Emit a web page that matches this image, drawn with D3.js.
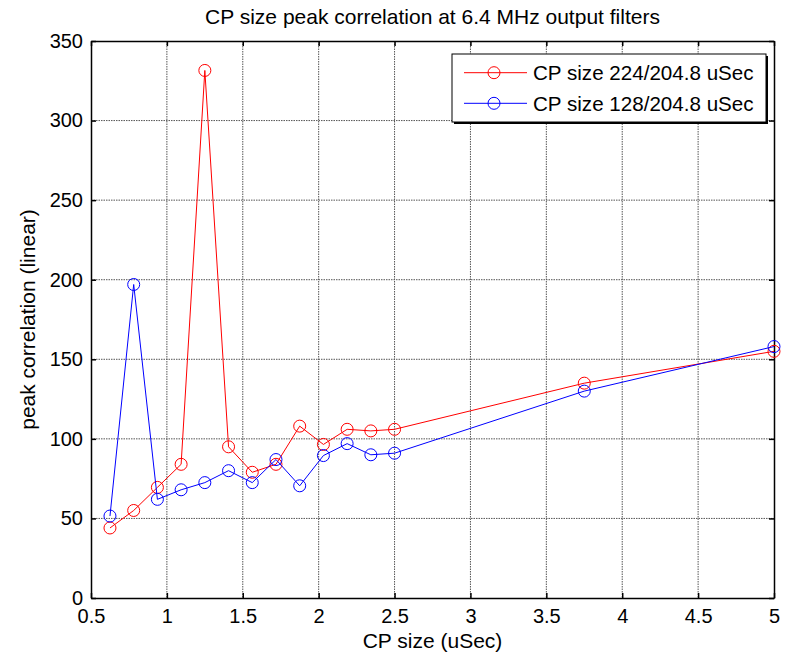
<!DOCTYPE html>
<html><head><meta charset="utf-8">
<script src="https://cdn.jsdelivr.net/npm/d3@7"></script>
<style>body{margin:0;background:#fff}svg{display:block}text{font-family:"Liberation Sans",Arial,sans-serif;fill:#000}</style>
</head><body><svg id="c" width="787" height="656"></svg>
<script>
const xValues = [0.625,0.78125,0.9375,1.09375,1.25,1.40625,1.5625,1.71875,1.875,2.03125,2.1875,2.34375,2.5,3.75,5];
const red224 = [44,55,69.5,84,331.5,95,79,84,108,96.5,106,105,106,135,155];
const blue128 = [51.5,197,62,68,72.5,80,72.5,87,70.5,89.5,97,90,91,130,158];
const xTicks = [0.5,1,1.5,2,2.5,3,3.5,4,4.5,5];
const yTicks = [0,50,100,150,200,250,300,350];
const seriesNames = ["CP size 224/204.8 uSec","CP size 128/204.8 uSec"];
const seriesColors = ["#ff0000","#0000ff"];

const svg = d3.select("#c");
const L=91,R=774,T=41,B=598;
const x = d3.scaleLinear().domain([0.5,5]).range([L,R]);
const y = d3.scaleLinear().domain([0,350]).range([B,T]);

// grid
const g = svg.append("g");
g.selectAll(".vg").data(xTicks.slice(1,-1)).enter().append("line")
 .attr("x1",d=>x(d)).attr("x2",d=>x(d)).attr("y1",T).attr("y2",B)
 .attr("stroke","#555").attr("stroke-width",1).attr("stroke-dasharray","1.5,1");
g.selectAll(".hg").data(yTicks.slice(1,-1)).enter().append("line")
 .attr("y1",d=>y(d)).attr("y2",d=>y(d)).attr("x1",L).attr("x2",R)
 .attr("stroke","#555").attr("stroke-width",1).attr("stroke-dasharray","1.5,1");

// axes
const xAxisB = d3.axisBottom(x).tickValues(xTicks).tickSizeInner(-5).tickSizeOuter(0).tickPadding(11).tickFormat(d3.format("~g"));
const xAxisT = d3.axisTop(x).tickValues(xTicks).tickSizeInner(-5).tickSizeOuter(0).tickFormat("");
const yAxisL = d3.axisLeft(y).tickValues(yTicks).tickSizeInner(-5).tickSizeOuter(0).tickPadding(8);
const yAxisR = d3.axisRight(y).tickValues(yTicks).tickSizeInner(-5).tickSizeOuter(0).tickFormat("");
function style(sel){sel.selectAll("path").attr("stroke","#000").attr("stroke-width",1.5);sel.selectAll("line").attr("stroke","#000").attr("stroke-width",1.5);sel.selectAll("text").attr("font-size","20px").attr("fill","#000").attr("font-family",'"Liberation Sans",Arial,sans-serif');}
svg.append("g").attr("transform",`translate(0,${B})`).call(xAxisB).call(style);
svg.append("g").attr("transform",`translate(0,${T})`).call(xAxisT).call(style);
svg.append("g").attr("transform",`translate(${L},0)`).call(yAxisL).call(style);
svg.append("g").attr("transform",`translate(${R},0)`).call(yAxisR).call(style);

// series
const series=[red224,blue128];
const line=d3.line().x((d,i)=>x(xValues[i])).y(d=>y(d));
series.forEach((s,k)=>{
  svg.append("path").datum(s).attr("d",line).attr("fill","none").attr("stroke",seriesColors[k]).attr("stroke-width",1);
  svg.append("g").selectAll("circle").data(s).enter().append("circle")
   .attr("cx",(d,i)=>x(xValues[i])).attr("cy",d=>y(d)).attr("r",6)
   .attr("fill","none").attr("stroke",seriesColors[k]).attr("stroke-width",1);
});

// legend
const lg=svg.append("g");
lg.append("rect").attr("x",454).attr("y",56).attr("width",314).attr("height",68).attr("fill","#000");
lg.append("rect").attr("x",452).attr("y",54).attr("width",314).attr("height",68).attr("fill","#fff").attr("stroke","#000").attr("stroke-width",1);
seriesNames.forEach((n,k)=>{
  const yy=72.7+k*30.6;
  lg.append("line").attr("x1",464).attr("x2",527).attr("y1",yy).attr("y2",yy).attr("stroke",seriesColors[k]).attr("stroke-width",1);
  lg.append("circle").attr("cx",494).attr("cy",yy).attr("r",6).attr("fill","none").attr("stroke",seriesColors[k]);
  lg.append("text").attr("x",533).attr("y",yy).attr("dy","0.35em").attr("font-size","20.6px").text(n);
});

// titles
svg.append("text").attr("x",(L+R)/2).attr("y",24).attr("text-anchor","middle").attr("font-size","21px").text("CP size peak correlation at 6.4 MHz output filters");
svg.append("text").attr("x",(L+R)/2).attr("y",648).attr("text-anchor","middle").attr("font-size","21px").text("CP size (uSec)");
svg.append("text").attr("transform",`translate(35,${(T+B)/2}) rotate(-90)`).attr("text-anchor","middle").attr("font-size","21px").text("peak correlation (linear)");
</script></body></html>
